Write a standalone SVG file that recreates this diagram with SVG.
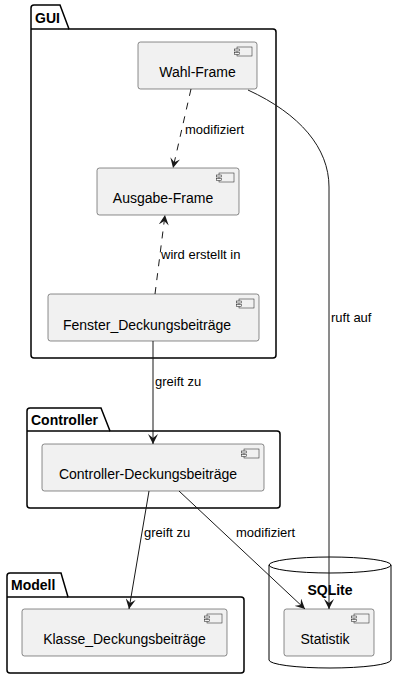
<svg xmlns="http://www.w3.org/2000/svg" width="406" height="689" viewBox="0 0 406 689">
<defs>
<style>
.pkg{fill:#FFFFFF;stroke:#000000;stroke-width:1.5}
.comp{fill:#F1F1F1;stroke:#181818;stroke-width:0.5}
.icon{fill:#F1F1F1;stroke:#181818;stroke-width:0.5}
.name{font-family:"Liberation Sans",Arial,sans-serif;font-size:14px;fill:#000000}
.ptitle{font-family:"Liberation Sans",Arial,sans-serif;font-size:14px;font-weight:bold;fill:#000000}
.lbl{font-family:"Liberation Sans",Arial,sans-serif;font-size:13px;fill:#000000}
.edge{fill:none;stroke:#181818;stroke-width:1}
.dash{stroke-dasharray:7,7}
</style>
<marker id="arr" viewBox="0 0 10 10" refX="10" refY="5" markerWidth="10" markerHeight="10" markerUnits="userSpaceOnUse" orient="auto">
<path d="M0,0 L10,5 L0,10 L4,5 Z" fill="#181818"/>
</marker>
</defs>
<rect width="406" height="689" fill="#FFFFFF"/>

<g id="pkg-gui">
<path class="pkg" d="M34,5 L60,5 L69,29 L273,29 Q276,29 276,32 L276,355 Q276,358 273,358 L34,358 Q31,358 31,355 L31,8 Q31,5 34,5 Z"/>
<line x1="31" y1="29" x2="69" y2="29" stroke="#000" stroke-width="1.5"/>
<text class="ptitle" x="35" y="23">GUI</text>
</g>

<g id="pkg-controller">
<path class="pkg" d="M30,408 L101,408 L110,431 L277,431 Q280,431 280,434 L280,505 Q280,508 277,508 L30,508 Q27,508 27,505 L27,411 Q27,408 30,408 Z"/>
<line x1="27" y1="431" x2="110" y2="431" stroke="#000" stroke-width="1.5"/>
<text class="ptitle" x="31" y="425">Controller</text>
</g>

<g id="pkg-modell">
<path class="pkg" d="M10,573 L61,573 L68,597 L241,597 Q244,597 244,600 L244,670 Q244,673 241,673 L10,673 Q7,673 7,670 L7,576 Q7,573 10,573 Z"/>
<line x1="7" y1="597" x2="68" y2="597" stroke="#000" stroke-width="1.5"/>
<text class="ptitle" x="11" y="590">Modell</text>
</g>

<g id="db-sqlite">
<path d="M269,565 A61,8 0 0 1 391,565 L391,660 A61,8 0 0 1 269,660 Z" fill="#FFFFFF" stroke="#000" stroke-width="1"/>
<path d="M269,565 A61,8 0 0 0 391,565" fill="none" stroke="#000" stroke-width="1"/>
<text class="ptitle" x="330" y="595" text-anchor="middle">SQLite</text>
</g>

<g id="wahl-frame">
<rect class="comp" x="138" y="42" width="119" height="47" rx="2.5"/>
<rect class="icon" x="237" y="47" width="15" height="9"/>
<rect class="icon" x="234.5" y="49" width="5" height="2"/>
<rect class="icon" x="234.5" y="52.5" width="5" height="2"/>
<text class="name" x="197.5" y="77" text-anchor="middle">Wahl-Frame</text>
</g>

<g id="ausgabe-frame">
<rect class="comp" x="97" y="168" width="142" height="47" rx="2.5"/>
<rect class="icon" x="219" y="173" width="15" height="9"/>
<rect class="icon" x="216.5" y="175" width="5" height="2"/>
<rect class="icon" x="216.5" y="178.5" width="5" height="2"/>
<text class="name" x="163" y="203" text-anchor="middle">Ausgabe-Frame</text>
</g>

<g id="fenster">
<rect class="comp" x="48" y="294" width="211" height="47" rx="2.5"/>
<rect class="icon" x="239" y="299" width="15" height="9"/>
<rect class="icon" x="236.5" y="301" width="5" height="2"/>
<rect class="icon" x="236.5" y="304.5" width="5" height="2"/>
<text class="name" x="147" y="330" text-anchor="middle">Fenster_Deckungsbeiträge</text>
</g>

<g id="controller-deck">
<rect class="comp" x="42" y="444" width="222" height="47" rx="2.5"/>
<rect class="icon" x="244" y="449" width="15" height="9"/>
<rect class="icon" x="241.5" y="451" width="5" height="2"/>
<rect class="icon" x="241.5" y="454.5" width="5" height="2"/>
<text class="name" x="148" y="479" text-anchor="middle">Controller-Deckungsbeiträge</text>
</g>

<g id="klasse">
<rect class="comp" x="22" y="609" width="205" height="47" rx="2.5"/>
<rect class="icon" x="207" y="614" width="15" height="9"/>
<rect class="icon" x="204.5" y="616" width="5" height="2"/>
<rect class="icon" x="204.5" y="619.5" width="5" height="2"/>
<text class="name" x="124.5" y="644" text-anchor="middle">Klasse_Deckungsbeiträge</text>
</g>

<g id="statistik">
<rect class="comp" x="284" y="609" width="90" height="47" rx="2.5"/>
<rect class="icon" x="354" y="614" width="15" height="9"/>
<rect class="icon" x="351.5" y="616" width="5" height="2"/>
<rect class="icon" x="351.5" y="619.5" width="5" height="2"/>
<text class="name" x="325" y="644" text-anchor="middle">Statistik</text>
</g>

<g id="connectors">
<path class="edge dash" d="M191,89 L173,168" marker-end="url(#arr)"/>
<text class="lbl" x="185" y="134">modifiziert</text>
<path class="edge dash" d="M155,294 L165,215" marker-end="url(#arr)"/>
<text class="lbl" x="161" y="259">wird erstellt in</text>
<path class="edge" d="M153,341 L153,444" marker-end="url(#arr)"/>
<text class="lbl" x="155" y="386">greift zu</text>
<path class="edge" d="M248,90 C300,114 329,148 329,187 L329,609" marker-end="url(#arr)"/>
<text class="lbl" x="331" y="322">ruft auf</text>
<path class="edge" d="M149,491 L129,609" marker-end="url(#arr)"/>
<text class="lbl" x="144" y="537">greift zu</text>
<path class="edge" d="M179,491 L305,609" marker-end="url(#arr)"/>
<text class="lbl" x="236" y="537">modifiziert</text>
</g>
</svg>
